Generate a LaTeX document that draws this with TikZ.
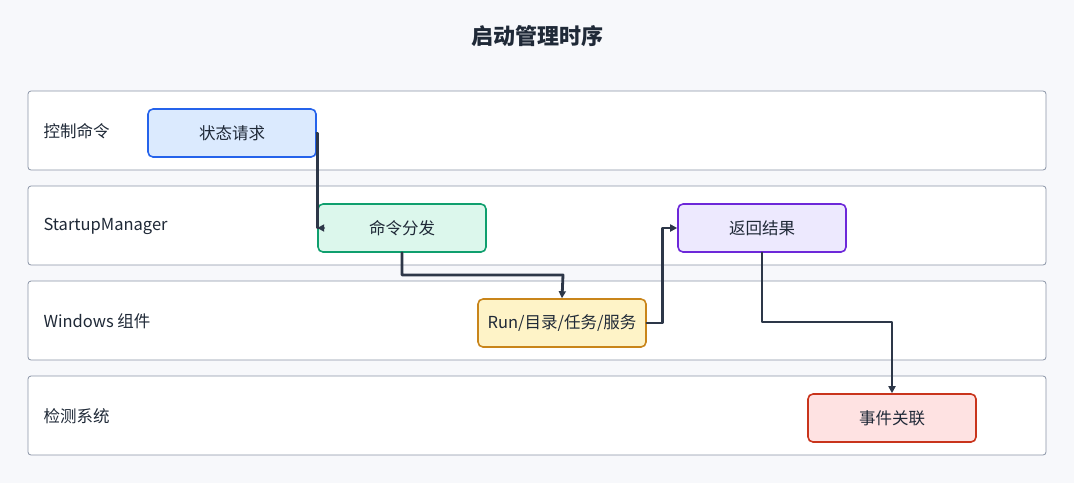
\documentclass[tikz,border=0pt]{standalone}
\usepackage{fontspec}
\setmainfont{Noto Sans CJK SC}
\usetikzlibrary{arrows.meta}
\definecolor{bgc}{HTML}{F7F8FB}
\definecolor{lanec}{HTML}{8A94A6}
\definecolor{wirec}{HTML}{2D3748}
\definecolor{txtc}{HTML}{1F2937}
\definecolor{bluefill}{HTML}{DBEAFE}\definecolor{blueline}{HTML}{2563EB}
\definecolor{greenfill}{HTML}{DCF7EC}\definecolor{greenline}{HTML}{0F9F6E}
\definecolor{yellowfill}{HTML}{FEF3C7}\definecolor{yellowline}{HTML}{C9851A}
\definecolor{purplefill}{HTML}{EDE9FE}\definecolor{purpleline}{HTML}{6D28D9}
\definecolor{redfill}{HTML}{FEE2E2}\definecolor{redline}{HTML}{C9341C}
\begin{document}
\begin{tikzpicture}[x=1pt,y=-1pt,line cap=round,line join=round,
  lane/.style={draw=lanec,fill=white,rounded corners=3pt,line width=0.8pt},
  lanelabel/.style={anchor=west,font=\fontsize{16.5}{19}\selectfont,text=txtc},
  stepbox/.style={rounded corners=5pt,line width=1.6pt,minimum width=168pt,minimum height=48pt,font=\fontsize{16.5}{19}\selectfont,text=txtc},
  wire/.style={draw=wirec,line width=2.8pt,-{Triangle[length=7pt,width=7pt]}}]
\fill[bgc] (0,0) rectangle (1074,483);
\useasboundingbox (0,0) rectangle (1074,483);
\node[font=\bfseries\fontsize{22}{25}\selectfont,text=txtc] (title) at (537,36) {启动管理时序};
% lanes
\draw[lane] (28,91) rectangle (1046,170);
\draw[lane] (28,186) rectangle (1046,265);
\draw[lane] (28,281) rectangle (1046,360);
\draw[lane] (28,376) rectangle (1046,455);
\node[lanelabel] (l1) at (40,131) {控制命令};
\node[lanelabel] (l2) at (40,226) {StartupManager};
\node[lanelabel] (l3) at (40,321) {Windows 组件};
\node[lanelabel] (l4) at (40,416) {检测系统};
% steps
\node[stepbox,draw=blueline,fill=bluefill] (req) at (232,133) {状态请求};
\node[stepbox,draw=greenline,fill=greenfill] (disp) at (402,228) {命令分发};
\node[stepbox,draw=yellowline,fill=yellowfill] (comp) at (562,323) {Run/目录/任务/服务};
\node[stepbox,draw=purpleline,fill=purplefill] (ret) at (762,228) {返回结果};
\node[stepbox,draw=redline,fill=redfill] (evt) at (892,418) {事件关联};
% flow
\draw[wire] (req.east) -- ++(1,0) |- (disp.west);
\draw[wire] (disp.south) |- (563,275) -- (comp.north);
\draw[wire] (comp.east) -- ++(16,0) |- (ret.west);
\draw[wire] (ret.south) |- (892,322) -- (evt.north);
\end{tikzpicture}
\end{document}
